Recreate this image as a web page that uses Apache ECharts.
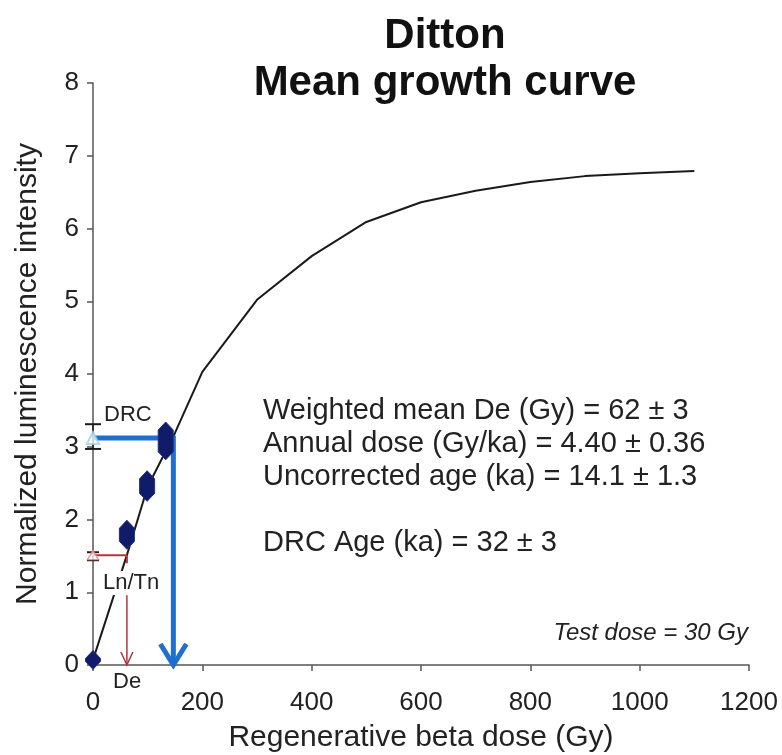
<!DOCTYPE html>
<html>
<head>
<meta charset="utf-8">
<script src="https://cdn.jsdelivr.net/npm/echarts@6/dist/echarts.min.js"></script>
<style>
  html, body { margin: 0; padding: 0; background: #ffffff; }
  #chart { width: 782px; height: 755px; }
</style>
</head>
<body>
<div id="chart"></div>
<script>
// Mean dose-response (growth) curve, Gy vs normalised Lx/Tx
const curveDose = [0, 62, 100, 150, 200, 300, 400, 500, 600, 700, 800, 900, 1000, 1100];
const curveLum  = [0.07, 1.51, 2.45, 3.19, 4.03, 5.02, 5.62, 6.09, 6.36, 6.52, 6.64, 6.72, 6.76, 6.79];

// Regenerated points: dose, mean value, half spread
const pointDose = [0, 62, 99, 133];
const pointLum  = [0.07, 1.79, 2.46, 3.08];
const pointErr  = [0.02, 0.09, 0.1, 0.15];

// Dose recovery check (DRC) and natural signal (Ln/Tn)
const drcLum = 3.12, drcErrLow = 2.97, drcErrHigh = 3.31;
const drcDose = 147;
const lnTnLum = 1.51, lnTnErrLow = 1.44, lnTnErrHigh = 1.55;
const deDose = 62;
const deArrowTop = 0.96;

// Axis ticks
const xTicks = [0, 200, 400, 600, 800, 1000, 1200];
const yTicks = [0, 1, 2, 3, 4, 5, 6, 7, 8];

// Text blocks
const titleLines = ['Ditton', 'Mean growth curve'];
const statLines = [
  'Weighted mean De (Gy) = 62 \u00b1 3',
  'Annual dose (Gy/ka) = 4.40 \u00b1 0.36',
  'Uncorrected age (ka) = 14.1 \u00b1 1.3',
  '',
  'DRC Age (ka) = 32 \u00b1 3'
];
const testDoseNote = 'Test dose = 30 Gy';

const FONT = '"Liberation Sans", Arial, Helvetica, sans-serif';
const BLUE = '#1f6fd0';
const RED = '#b3343c';
const NAVY = '#101c6a';

const chart = echarts.init(document.getElementById('chart'), null, { renderer: 'canvas' });

// open V arrow head, tip at the given data point
function arrowHead(color, halfW, len, width) {
  return function (params, api) {
    const p = api.coord([api.value(0), api.value(1)]);
    return {
      type: 'polyline',
      shape: { points: [[p[0] - halfW, p[1] - len], [p[0], p[1]], [p[0] + halfW, p[1] - len]] },
      style: { stroke: color, lineWidth: width, fill: null, lineJoin: 'miter' }
    };
  };
}

// error bar with small caps
function errorBar(color, capW) {
  return function (params, api) {
    const x = api.value(0);
    const lo = api.coord([x, api.value(1)]);
    const hi = api.coord([x, api.value(2)]);
    return {
      type: 'group',
      children: [
        { type: 'line', shape: { x1: lo[0], y1: lo[1], x2: hi[0], y2: hi[1] }, style: { stroke: color, lineWidth: 1.5 } },
        { type: 'line', shape: { x1: lo[0] - capW, y1: lo[1], x2: lo[0] + capW, y2: lo[1] }, style: { stroke: color, lineWidth: 2 } },
        { type: 'line', shape: { x1: hi[0] - capW, y1: hi[1], x2: hi[0] + capW, y2: hi[1] }, style: { stroke: color, lineWidth: 2 } }
      ]
    };
  };
}

const option = {
  backgroundColor: '#ffffff',
  animation: false,
  title: {
    text: titleLines.join('\n'),
    left: 440,
    top: 8,
    textAlign: 'center',
    textStyle: { fontFamily: FONT, fontSize: 42, fontWeight: 'bold', color: '#111', lineHeight: 47 }
  },
  grid: { left: 93, right: 33, top: 83, bottom: 90, outerBoundsMode: 'none', containLabel: false },
  xAxis: {
    type: 'value',
    min: xTicks[0],
    max: xTicks[xTicks.length - 1],
    interval: 200,
    name: 'Regenerative beta dose (Gy)',
    nameLocation: 'middle',
    nameGap: 58,
    nameTextStyle: { fontFamily: FONT, fontSize: 30, color: '#222' },
    axisLine: { show: true, lineStyle: { color: '#555', width: 1.5 } },
    axisTick: { show: true, length: 6, lineStyle: { color: '#555', width: 1.5 } },
    axisLabel: { fontFamily: FONT, fontSize: 26, color: '#222', margin: 25, formatter: v => String(v) },
    splitLine: { show: false }
  },
  yAxis: {
    type: 'value',
    min: yTicks[0],
    max: yTicks[yTicks.length - 1],
    interval: 1,
    name: 'Normalized luminescence intensity',
    nameLocation: 'middle',
    nameGap: 50,
    nameRotate: 90,
    nameTextStyle: { fontFamily: FONT, fontSize: 30, color: '#222' },
    axisLine: { show: true, lineStyle: { color: '#555', width: 1.5 } },
    axisTick: { show: true, length: 6, lineStyle: { color: '#555', width: 1.5 } },
    axisLabel: { fontFamily: FONT, fontSize: 26, color: '#222', margin: 14 },
    splitLine: { show: false }
  },
  series: [
    {
      name: 'growth curve',
      type: 'line',
      data: curveDose.map((d, i) => [d, curveLum[i]]),
      showSymbol: false,
      lineStyle: { color: '#1a1a1a', width: 2 },
      z: 2
    },
    {
      name: 'DRC path',
      type: 'line',
      data: [[0, drcLum], [drcDose, drcLum], [drcDose, 0]],
      showSymbol: false,
      lineStyle: { color: BLUE, width: 5, join: 'miter' },
      z: 3
    },
    {
      name: 'DRC arrow',
      type: 'custom',
      data: [[drcDose, 0]],
      renderItem: arrowHead(BLUE, 13, 21, 5),
      z: 3
    },
    {
      name: 'Ln/Tn path',
      type: 'line',
      data: [[0, lnTnLum], [deDose, lnTnLum], [deDose, lnTnLum - 0.11]],
      showSymbol: false,
      lineStyle: { color: RED, width: 2 },
      z: 3
    },
    {
      name: 'De arrow line',
      type: 'line',
      data: [[deDose, deArrowTop], [deDose, 0]],
      showSymbol: false,
      lineStyle: { color: RED, width: 1.5 },
      z: 3
    },
    {
      name: 'De arrow',
      type: 'custom',
      data: [[deDose, 0]],
      renderItem: arrowHead(RED, 6, 13, 1.5),
      z: 3
    },
    {
      name: 'regenerated points',
      type: 'custom',
      data: pointDose.map((d, i) => [d, pointLum[i] - pointErr[i], pointLum[i] + pointErr[i]]),
      renderItem: function (params, api) {
        const x = api.value(0);
        const lo = api.coord([x, api.value(1)]);
        const hi = api.coord([x, api.value(2)]);
        const w = 7.5, h = 8;
        return {
          type: 'polygon',
          shape: {
            points: [
              [hi[0], hi[1] - h], [hi[0] + w, hi[1]], [lo[0] + w, lo[1]],
              [lo[0], lo[1] + h], [lo[0] - w, lo[1]], [hi[0] - w, hi[1]]
            ]
          },
          style: { fill: NAVY, stroke: '#22307f', lineWidth: 1 }
        };
      },
      z: 5
    },
    {
      name: 'DRC error',
      type: 'custom',
      data: [[0, drcErrLow, drcErrHigh]],
      renderItem: errorBar('#1a1a1a', 8),
      z: 6
    },
    {
      name: 'Ln/Tn error',
      type: 'custom',
      data: [[0, lnTnErrLow, lnTnErrHigh]],
      renderItem: errorBar('#3a1a1a', 6),
      z: 6
    },
    {
      name: 'DRC',
      type: 'scatter',
      data: [[0, drcLum]],
      symbol: 'triangle',
      symbolSize: [12, 12],
      itemStyle: { color: '#ffffff', borderColor: '#9fd0e6', borderWidth: 2 },
      z: 7
    },
    {
      name: 'Ln/Tn',
      type: 'scatter',
      data: [[0, lnTnLum]],
      symbol: 'triangle',
      symbolSize: [11, 9],
      itemStyle: { color: '#ffffff', borderColor: '#e08a90', borderWidth: 1.5 },
      z: 7
    }
  ],
  graphic: [
    {
      type: 'text',
      left: 263,
      top: 394,
      z: 10,
      style: { text: statLines.join('\n'), font: '29px ' + FONT, lineHeight: 33, fill: '#222' }
    },
    {
      type: 'text',
      right: 34,
      top: 621,
      z: 10,
      style: { text: testDoseNote, font: 'italic 24px ' + FONT, fill: '#222' }
    },
    {
      type: 'text',
      left: 104,
      top: 404,
      z: 10,
      style: { text: 'DRC', font: '22px ' + FONT, fill: '#222' }
    },
    {
      type: 'text',
      left: 102,
      top: 571,
      z: 10,
      style: { text: 'Ln/Tn', font: '22px ' + FONT, fill: '#222', backgroundColor: '#ffffff', padding: [1, 1, 1, 1] }
    },
    {
      type: 'text',
      left: 113,
      top: 671,
      z: 10,
      style: { text: 'De', font: '22px ' + FONT, fill: '#222' }
    }
  ]
};

chart.setOption(option);
</script>
</body>
</html>
